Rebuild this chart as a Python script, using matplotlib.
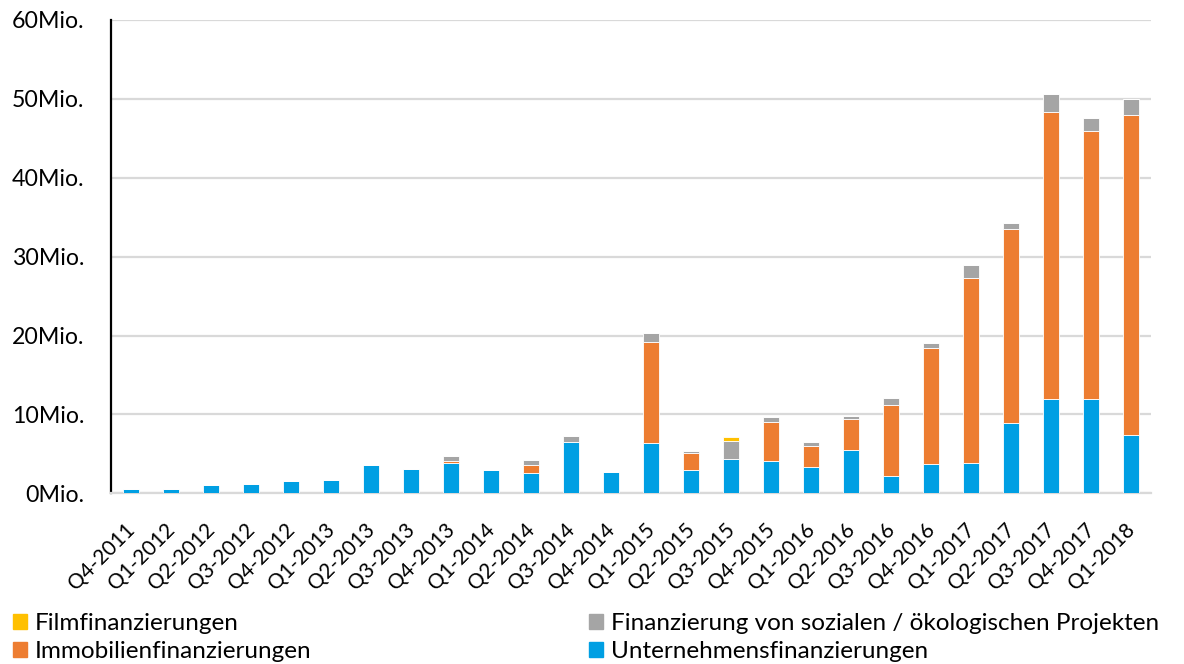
import numpy as np
import matplotlib
matplotlib.use("Agg")
import matplotlib.pyplot as plt
from matplotlib.patches import Patch

plt.rcParams["font.family"] = ["Lato", "DejaVu Sans"]

quarters = ["Q4-2011", "Q1-2012", "Q2-2012", "Q3-2012", "Q4-2012", "Q1-2013",
            "Q2-2013", "Q3-2013", "Q4-2013", "Q1-2014", "Q2-2014", "Q3-2014",
            "Q4-2014", "Q1-2015", "Q2-2015", "Q3-2015", "Q4-2015", "Q1-2016",
            "Q2-2016", "Q3-2016", "Q4-2016", "Q1-2017", "Q2-2017", "Q3-2017",
            "Q4-2017", "Q1-2018"]

# values in Mio. EUR
unternehmen = [0.5, 0.5, 1.0, 1.2, 1.6, 1.75, 3.6, 3.1, 3.8, 2.95, 2.55, 6.55, 2.75,
               6.4, 2.95, 4.4, 4.1, 3.3, 5.55, 2.15, 3.75, 3.85, 8.9, 12.0, 11.9, 7.45]
immobilien = [0, 0, 0, 0, 0, 0, 0, 0, 0.25, 0, 1.0, 0, 0,
              12.8, 2.2, 0, 5.0, 2.7, 3.9, 9.0, 14.7, 23.5, 24.6, 36.3, 34.0, 40.5]
sozial = [0, 0, 0, 0, 0, 0, 0, 0, 0.7, 0, 0.65, 0.7, 0,
          1.1, 0.25, 2.25, 0.55, 0.55, 0.35, 0.95, 0.6, 1.6, 0.8, 2.35, 1.65, 2.05]
film = [0, 0, 0, 0, 0, 0, 0, 0, 0, 0, 0, 0, 0,
        0, 0, 0.5, 0, 0, 0, 0, 0, 0, 0, 0, 0, 0]

c_blue, c_orange, c_gray, c_yellow = "#009FE3", "#ED7D31", "#A5A5A5", "#FFC000"

fig = plt.figure(figsize=(11.84, 6.64), dpi=100)
ax = fig.add_axes([0.094, 0.257, 0.8784, 0.713])

x = np.arange(len(quarters))
b1 = np.array(unternehmen)
b2 = b1 + np.array(immobilien)
b3 = b2 + np.array(sozial)
kw = dict(width=0.4, edgecolor="white", linewidth=0.6, zorder=3)
ax.bar(x, unternehmen, color=c_blue, **kw)
ax.bar(x, immobilien, bottom=b1, color=c_orange, **kw)
ax.bar(x, sozial, bottom=b2, color=c_gray, **kw)
ax.bar(x, film, bottom=b3, color=c_yellow, **kw)

ax.set_xlim(-0.5, len(quarters) - 0.5)
ax.set_ylim(0, 60)
ax.set_yticks(range(0, 61, 10))
ax.set_yticklabels([f"{v}Mio." for v in range(0, 61, 10)], fontsize=16.7)
ax.yaxis.grid(True, color="#D9D9D9", linewidth=1.6, zorder=0)
ax.set_axisbelow(True)

ax.set_xticks(x)
ax.set_xticklabels(quarters, rotation=45, ha="right", va="center",
                   rotation_mode="anchor", fontsize=15)
ax.tick_params(axis="x", length=0, pad=24)
ax.tick_params(axis="y", length=0, pad=19.5)

for s in ["top", "right"]:
    ax.spines[s].set_visible(False)
ax.spines["left"].set_color("black")
ax.spines["left"].set_linewidth(1.6)
ax.spines["bottom"].set_color("#D9D9D9")
ax.spines["bottom"].set_linewidth(1.6)

handles = [Patch(color=c_yellow, label="Filmfinanzierungen"),
           Patch(color=c_orange, label="Immobilienfinanzierungen"),
           Patch(color=c_gray, label="Finanzierung von sozialen / ökologischen Projekten"),
           Patch(color=c_blue, label="Unternehmensfinanzierungen")]
fig.legend(handles=handles, ncol=2, loc="upper left", bbox_to_anchor=(0.011, 0.077),
           frameon=False, fontsize=17.5, handlelength=0.58, handleheight=0.58,
           handletextpad=0.33, columnspacing=11.4, labelspacing=0.3,
           borderaxespad=0, borderpad=0)

fig.savefig("out.png", dpi=100)
